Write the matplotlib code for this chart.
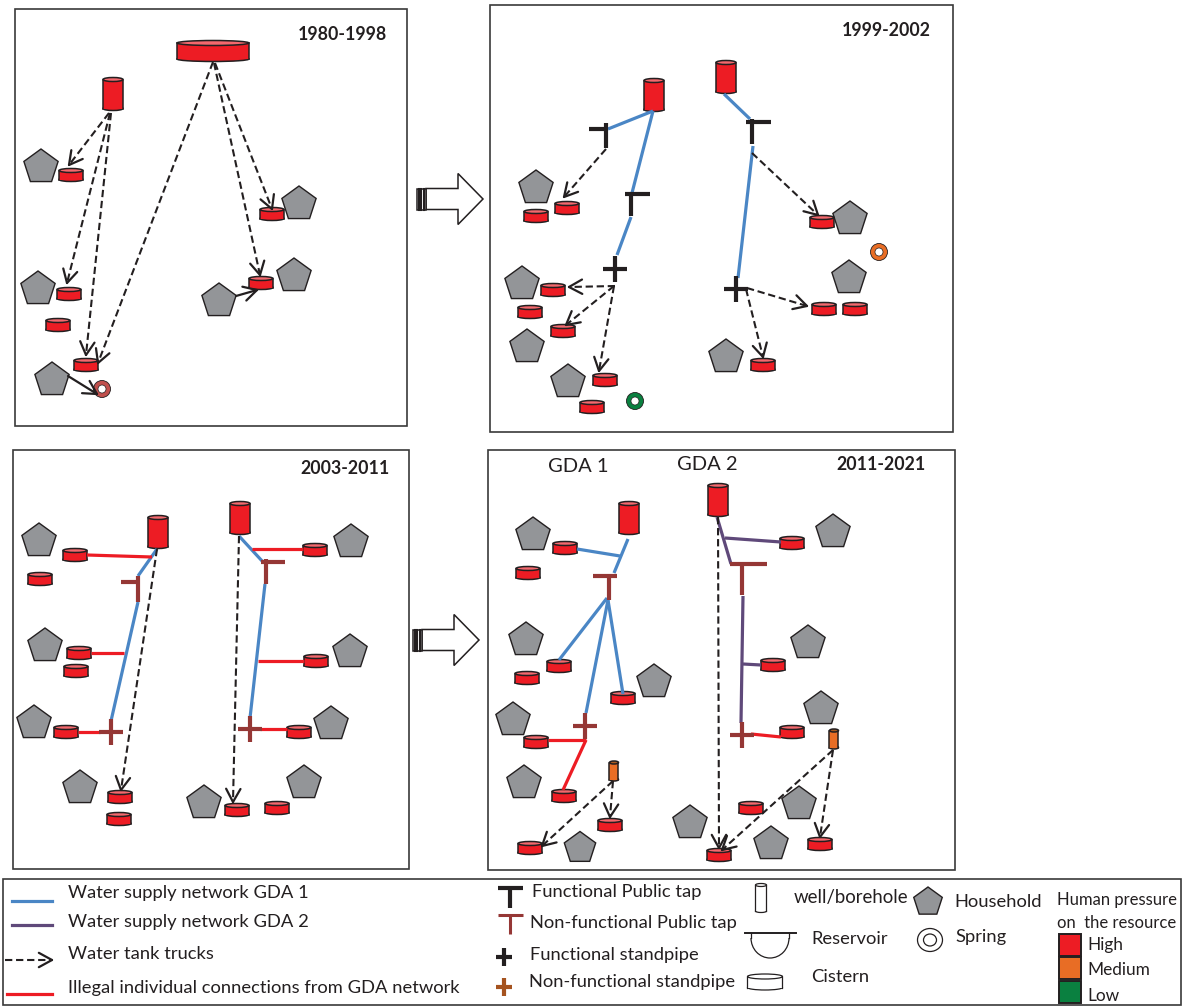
import numpy as np
import matplotlib
matplotlib.use('Agg')
from matplotlib import pyplot as plt
from matplotlib.patches import Polygon, Ellipse, Rectangle, Circle, Arc

RED = '#ed1c24'
RED_TOP = '#f4686d'
ORANGE = '#e86d25'
GREY = '#939598'
DARK = '#231f20'
BLUE = '#4a86c5'
PURPLE = '#5f497a'
TAP_RED = '#953735'
BROWN = '#a5531f'
GREEN = '#0a8040'
SPRING_RED = '#c0504d'

plt.rcParams['font.family'] = ['Lato', 'DejaVu Sans']

# panel frames: left, top, right, bottom
frames = [(15, 9, 407, 426), (490, 5, 953, 432), (13, 450, 409, 869), (488, 450, 955, 870)]

years = ['1980-1998', '1999-2002', '2003-2011', '2011-2021']
year_pos = [(342, 34), (886, 30), (345, 468), (881, 464)]

households = [
    (41, 167), (299, 204), (38, 289), (294, 276), (219, 301), (52, 380),
    (536, 188), (850, 219), (522, 284), (849, 278), (527, 347), (726, 357), (568, 382),
    (39, 541), (351, 542), (45, 646), (350, 652), (34, 723), (331, 724), (80, 788), (204, 803), (304, 783),
    (533, 535), (833, 532), (526, 640), (808, 643), (654, 682), (513, 720), (821, 709), (524, 783),
    (799, 804), (690, 823), (771, 844),
]
small_households = [(580, 848)]

cisterns = [
    (71, 175), (272, 214), (69, 294), (261, 283), (58, 325), (86, 365),
    (567, 208), (536, 216), (822, 222), (553, 290), (530, 312), (824, 309), (855, 309), (563, 331),
    (763, 365), (605, 380), (592, 407),
    (75, 555), (315, 550), (40, 579), (79, 653), (316, 661), (76, 671), (66, 732), (299, 732),
    (120, 797), (119, 819), (237, 810), (277, 808),
    (565, 548), (792, 543), (528, 573), (559, 666), (773, 665), (527, 678), (623, 698), (536, 742),
    (792, 732), (564, 796), (610, 825), (751, 808), (530, 848), (820, 844), (719, 855),
]
wells = [(113, 94), (654, 95), (726, 77), (158, 532), (240, 518), (629, 518), (718, 500)]
small_wells = [(614, 771), (834, 739)]
big_reservoir = (213, 51)

springs = [(102, 389, SPRING_RED), (635, 401, GREEN), (879, 252, ORANGE)]

blue_lines = [
    ((653, 111), (608, 129)), ((653, 111), (632, 193)), ((631, 217), (617, 255)),
    ((724, 94), (750, 119)), ((753, 146), (738, 278)),
    ((157, 549), (138, 576)), ((138, 602), (111, 721)), ((239, 536), (263, 562)), ((265, 584), (250, 718)),
    ((628, 539), (614, 573)), ((577, 549), (620, 556)), ((607, 598), (559, 660)),
    ((608, 600), (586, 713)), ((608, 600), (623, 694)),
]
purple_lines = [
    ((717, 517), (731, 564)), ((725, 538), (781, 542)), ((743, 596), (741, 723)), ((743, 664), (761, 665)),
]
red_lines = [
    ((87, 555), (152, 557)), ((91, 653), (124, 653)), ((78, 732), (100, 732)),
    ((252, 549), (303, 549)), ((258, 661), (304, 661)), ((260, 729), (287, 729)),
    ((548, 740), (586, 740)), ((586, 740), (563, 790)), ((751, 734), (781, 737)),
]

# taps: horizontal x0, x1, y, then stem x, y0, y1
black_taps = [(589, 608, 129, 606, 123, 148), (625, 650, 194, 631, 192, 216), (746, 771, 122, 752, 119, 144)]
red_taps = [(121, 140, 582, 138, 576, 602), (261, 285, 562, 266, 559, 584),
            (593, 617, 576, 609, 576, 600), (730, 767, 564, 742, 564, 595)]
# standpipes: centre x, y
black_pipes = [(615, 269), (736, 289)]
red_pipes = [(111, 732), (250, 729), (585, 726), (742, 735)]

dashed_arrows = [
    ((109, 113), (69, 165)), ((110, 113), (67, 283)), ((111, 113), (86, 355)), ((213, 62), (98, 363)),
    ((215, 63), (272, 209)), ((214, 63), (260, 275)),
    ((606, 149), (564, 197)), ((615, 286), (569, 287)), ((614, 286), (566, 325)), ((614, 286), (599, 371)),
    ((752, 153), (818, 215)), ((747, 288), (807, 306)), ((746, 289), (763, 357)),
    ((157, 549), (121, 790)), ((239, 536), (233, 802)),
    ((718, 517), (719, 848)), ((833, 750), (722, 850)), ((833, 750), (820, 837)),
    ((613, 781), (542, 846)), ((613, 781), (610, 817)),
]
solid_arrows = [((236, 296), (257, 290)), ((68, 376), (97, 394))]

# block arrows: tail x0, hatch x1, shaft end, tip x, centre y, shaft half, head half
block_arrows = [(417, 426, 458, 483, 199, 10.5, 25.5), (413, 422, 454, 479, 640, 10.5, 25.5)]

legend_lines = ['Water supply network GDA 1', 'Water supply network GDA 2', 'Water tank trucks',
                'Illegal individual connections from GDA network']
legend_line_y = [893, 922, 954, 988]
legend_marks = ['Functional Public tap', 'Non-functional Public tap', 'Functional standpipe', 'Non-functional standpipe']
legend_mark_pos = [(532, 892), (530, 923), (530, 955), (529, 982)]
pressure_labels = ['High', 'Medium', 'Low']
pressure_y = [945, 970, 996]
pressure_colors = [RED, ORANGE, GREEN]


def drawPentagon(ax, x, y, r=18):
    ang = np.radians(-90 + 72 * np.arange(5))
    pts = np.column_stack([x + r * np.cos(ang), y + r * np.sin(ang)])
    ax.add_patch(Polygon(pts, closed=True, fc=GREY, ec=DARK, lw=1.0, zorder=2))


def drawCylinder(ax, x, y, w, h, color, top=RED_TOP, ell=4, lw=1.1, z=3):
    ax.add_patch(Rectangle((x - w / 2, y - h / 2), w, h, fc=color, ec='none', zorder=z))
    ax.add_patch(Ellipse((x, y + h / 2), w, ell, fc=color, ec=DARK, lw=lw, zorder=z - 0.1))
    ax.plot([x - w / 2, x - w / 2], [y - h / 2, y + h / 2], color=DARK, lw=lw, zorder=z + 0.1)
    ax.plot([x + w / 2, x + w / 2], [y - h / 2, y + h / 2], color=DARK, lw=lw, zorder=z + 0.1)
    ax.add_patch(Ellipse((x, y - h / 2), w, ell, fc=top, ec=DARK, lw=lw, zorder=z + 0.1))


def drawArrow(ax, p0, p1, dashed=True):
    style = {'color': DARK, 'zorder': 5, 'solid_capstyle': 'round'}
    if dashed:
        ax.plot([p0[0], p1[0]], [p0[1], p1[1]], lw=1.5, dashes=(3.5, 1.8), **style)
    else:
        ax.plot([p0[0], p1[0]], [p0[1], p1[1]], lw=1.6, **style)
    a = np.arctan2(p0[1] - p1[1], p0[0] - p1[0])
    for da in (-0.5, 0.5):
        ax.plot([p1[0], p1[0] + 15 * np.cos(a + da)], [p1[1], p1[1] + 15 * np.sin(a + da)], lw=1.6, **style)


def drawTap(ax, x0, x1, y, sx, y0, y1, color, lw=3.0):
    ax.plot([x0, x1], [y, y], color=color, lw=lw, solid_capstyle='butt', zorder=4)
    ax.plot([sx, sx], [y0, y1], color=color, lw=lw, solid_capstyle='butt', zorder=4)


def drawPipe(ax, x, y, color, hw=12, hh=13, lw=3.0):
    ax.plot([x - hw, x + hw], [y, y], color=color, lw=lw, solid_capstyle='butt', zorder=4)
    ax.plot([x, x], [y - hh, y + hh], color=color, lw=lw, solid_capstyle='butt', zorder=4)


def drawBlockArrow(ax, x0, x1, x2, tip, y, sh, hh):
    pts = [(x1, y - sh), (x2, y - sh), (x2, y - hh), (tip, y), (x2, y + hh), (x2, y + sh), (x1, y + sh)]
    ax.add_patch(Polygon(pts, closed=True, fc='white', ec=DARK, lw=1.1, zorder=2))
    ax.add_patch(Rectangle((x0, y - sh), x1 - x0, 2 * sh, fc='white', ec=DARK, lw=1.1, zorder=2))
    for hx in (x0 + 2, x0 + 4.5, x0 + 7):
        ax.plot([hx, hx], [y - sh, y + sh], color=DARK, lw=1.5, zorder=3)


fig = plt.figure(figsize=(11.83, 10.06), dpi=100)
ax = fig.add_axes([0, 0, 1, 1])
ax.set_xlim(0, 1183)
ax.set_ylim(1006, 0)
ax.axis('off')

# panels
for (l, t, r, b) in frames:
    ax.add_patch(Rectangle((l, t), r - l, b - t, fc='white', ec='#3a3a3a', lw=1.2, zorder=1))
for label, (x, y) in zip(years, year_pos):
    ax.text(x, y, label, fontsize=12.8, fontweight='bold', color=DARK, ha='center', va='center')
ax.text(578, 467, 'GDA 1', fontsize=14.5, color=DARK, ha='center', va='center')
ax.text(707, 464, 'GDA 2', fontsize=14.5, color=DARK, ha='center', va='center')

for x, y in households:
    drawPentagon(ax, x, y)
for x, y in small_households:
    drawPentagon(ax, x, y, r=16.5)
for x, y in cisterns:
    drawCylinder(ax, x, y, 24, 9, RED)
for x, y in wells:
    drawCylinder(ax, x, y, 20, 29, RED)
for x, y in small_wells:
    drawCylinder(ax, x, y, 9, 17, ORANGE, top='#a85a20', ell=3)
drawCylinder(ax, big_reservoir[0], big_reservoir[1], 72, 16, RED, ell=5)

for x, y, col in springs:
    ax.add_patch(Circle((x, y), 8.5, fc=col, ec=DARK, lw=0.6, zorder=3))
    ax.add_patch(Circle((x, y), 4, fc='white', ec=DARK, lw=0.5, zorder=3.4))

for lines, col in [(blue_lines, BLUE), (purple_lines, PURPLE), (red_lines, RED)]:
    for p0, p1 in lines:
        ax.plot([p0[0], p1[0]], [p0[1], p1[1]], color=col, lw=2.3, solid_capstyle='butt', zorder=3.5)

for t in black_taps:
    drawTap(ax, *t, DARK)
for t in red_taps:
    drawTap(ax, *t, TAP_RED)
for x, y in black_pipes:
    drawPipe(ax, x, y, DARK)
for x, y in red_pipes:
    drawPipe(ax, x, y, TAP_RED)

for p0, p1 in dashed_arrows:
    drawArrow(ax, p0, p1)
for p0, p1 in solid_arrows:
    drawArrow(ax, p0, p1, dashed=False)
for a in block_arrows:
    drawBlockArrow(ax, *a)

# legend
ax.add_patch(Rectangle((3, 879), 1178, 126, fc='white', ec='#3a3a3a', lw=1.2, zorder=1))
ax.plot([12, 52], [901, 901], color=BLUE, lw=2.3)
ax.plot([12, 52], [925, 925], color=PURPLE, lw=2.3)
drawArrow(ax, (5, 960), (52, 960))
ax.plot([7, 52], [994, 994], color=RED, lw=2.3)
for label, y in zip(legend_lines, legend_line_y):
    ax.text(68, y, label, fontsize=13.2, color=DARK, va='center')
for label, (x, y) in zip(legend_marks, legend_mark_pos):
    ax.text(x, y, label, fontsize=13.2, color=DARK, va='center')

drawTap(ax, 498, 523, 888, 510, 888, 908, DARK)
drawTap(ax, 498, 523, 915, 510, 915, 934, TAP_RED, lw=2.2)
drawPipe(ax, 504, 957, DARK, hw=8, hh=9)
drawPipe(ax, 504, 987, BROWN, hw=8, hh=9)

# well, reservoir, cistern symbols
drawCylinder(ax, 761, 898, 11, 26, 'white', top='white', ell=3, lw=0.9)
ax.text(794, 897, 'well/borehole', fontsize=13.4, color=DARK, va='center')
ax.plot([745, 796], [933, 933], color=DARK, lw=1.4)
ax.add_patch(Arc((770, 938), 38, 40, theta1=0, theta2=180, ec=DARK, lw=0.9, zorder=3))
ax.plot([751, 751], [933, 938], color=DARK, lw=0.9)
ax.plot([789, 789], [933, 938], color=DARK, lw=0.9)
ax.text(811, 939, 'Reservoir', fontsize=13.2, color=DARK, va='center')
drawCylinder(ax, 765, 982, 35, 11, 'white', top='white', ell=5, lw=0.9)
ax.text(811, 977, 'Cistern', fontsize=13.2, color=DARK, va='center')

drawPentagon(ax, 928, 902, r=15)
ax.text(954, 902, 'Household', fontsize=13.2, color=DARK, va='center')
ax.add_patch(Ellipse((930, 940), 25, 23, fc='white', ec=DARK, lw=0.9))
ax.add_patch(Ellipse((930, 940), 13, 12, fc='white', ec=DARK, lw=0.9))
ax.text(955, 937, 'Spring', fontsize=13.2, color=DARK, va='center')

ax.text(1057, 900, 'Human pressure', fontsize=12, color=DARK, va='center')
ax.text(1057, 923, 'on  the resource', fontsize=12, color=DARK, va='center')
swatch_top = [934, 957, 981]
swatch_h = [22, 22, 22]
for top, h, col in zip(swatch_top, swatch_h, pressure_colors):
    ax.add_patch(Rectangle((1059, top), 22, h, fc=col, ec=DARK, lw=1.4, zorder=3))
for label, y in zip(pressure_labels, pressure_y):
    ax.text(1087, y, label, fontsize=12.4, color=DARK, va='center')

plt.savefig('out.png', dpi=100)
